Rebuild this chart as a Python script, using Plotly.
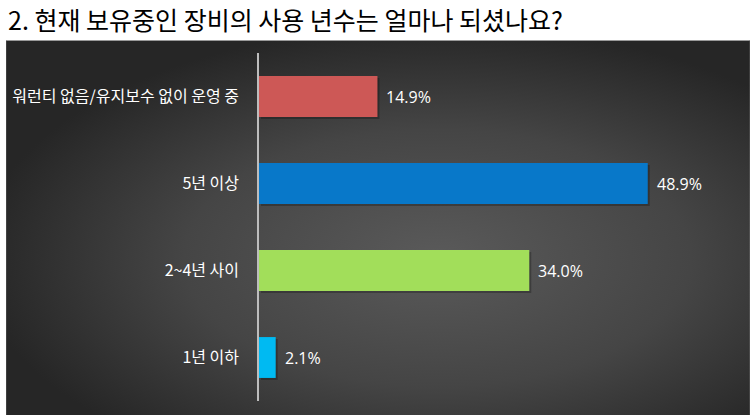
import base64
import plotly.graph_objects as go

# ---- data ----
categories = ["워런티 없음/유지보수 없이 운영 중", "5년 이상", "2~4년 사이", "1년 이하"]
values = [14.9, 48.9, 34.0, 2.1]
value_labels = ["14.9%", "48.9%", "34.0%", "2.1%"]
bar_colors = ["#CD5856", "#0878C9", "#A2DE5A", "#00BAF2"]
title_text = "2. 현재 보유중인 장비의 사용 년수는 얼마나 되셨나요?"

W, H = 750, 415
ML, MR, MT, MB = 255, 14, 53, 14
PW, PH = W - ML - MR, H - MT - MB
PANEL_TOP = 40

svg = f'''<svg xmlns="http://www.w3.org/2000/svg" width="{W}" height="{H-PANEL_TOP+1}" viewBox="0 0 {W} {H-PANEL_TOP+1}" preserveAspectRatio="none">
<defs><radialGradient id="g" cx="0.58" cy="0.58" r="0.62" gradientUnits="objectBoundingBox">
<stop offset="0" stop-color="#5a5a5a"/><stop offset="0.55" stop-color="#454545"/><stop offset="1" stop-color="#262626"/>
</radialGradient></defs>
<rect x="0" y="0" width="{W}" height="{H-PANEL_TOP+1}" fill="url(#g)"/>
<rect x="0" y="0" width="{W}" height="1" fill="#9a9a9a"/>
</svg>'''
svg_uri = "data:image/svg+xml;base64," + base64.b64encode(svg.encode()).decode()

fig = go.Figure()
# soft shadow
fig.add_trace(go.Bar(
    y=categories, x=values, orientation="h", base=[0.25] * len(values),
    width=0.47, offset=-0.235 + 2 / 87,
    marker=dict(color="rgba(0,0,0,0.25)", line=dict(width=0)),
    hoverinfo="skip", showlegend=False,
))
fig.add_trace(go.Bar(
    y=categories, x=values, orientation="h",
    width=0.47, offset=-0.235,
    marker=dict(color=bar_colors, line=dict(width=0)),
    showlegend=False,
))

for c, v, t in zip(categories, values, value_labels):
    fig.add_annotation(x=v, y=c, text=t, xanchor="left", yanchor="middle",
                       xshift=7, showarrow=False,
                       font=dict(family="Open Sans", size=16, color="white"))

fig.add_layout_image(dict(
    source=svg_uri, xref="paper", yref="paper",
    x=-ML / PW, y=(H - MB - PANEL_TOP) / PH,
    sizex=W / PW, sizey=(H - PANEL_TOP + 1) / PH,
    xanchor="left", yanchor="top", sizing="stretch", layer="below",
))

fig.update_layout(
    width=W, height=H,
    margin=dict(l=ML, r=MR, t=MT, b=MB),
    paper_bgcolor="white", plot_bgcolor="rgba(0,0,0,0)",
    barmode="overlay",
    title=dict(text=title_text, x=8 / W, xanchor="left", xref="container",
               y=1 - 21 / H, yanchor="middle", yref="container",
               font=dict(family="Noto Sans CJK KR", size=25, color="black")),
    xaxis=dict(range=[0, 60], visible=False, showgrid=False, zeroline=False),
    yaxis=dict(autorange="reversed", showline=True, linecolor="#bdbdbd", linewidth=1.5,
               showgrid=False, zeroline=False, ticks="", ticklabelstandoff=15,
               tickfont=dict(family="Noto Sans CJK KR", size=16, color="white")),
)

fig.write_html("out.html", config={"displayModeBar": False},
               post_script="document.body.style.margin='0';document.body.style.overflow='hidden';")
